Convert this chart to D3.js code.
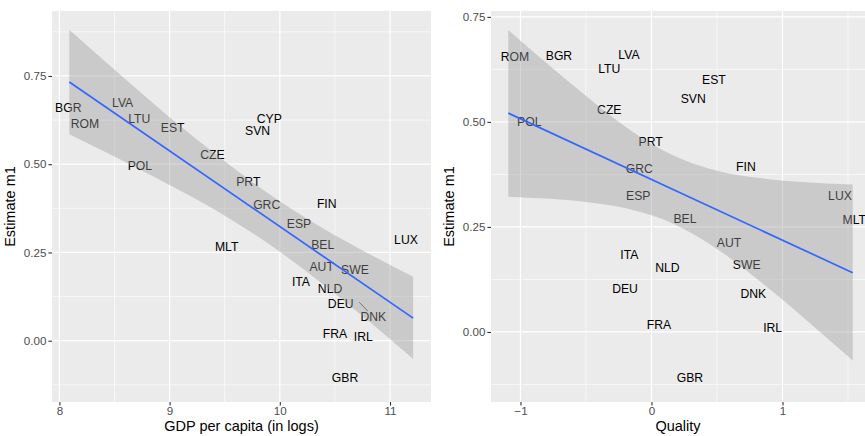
<!DOCTYPE html>
<html lang="en">
  <head>
    <meta charset="UTF-8" />
    <title>Estimate m1 vs GDP and Quality</title>
    <style>
      body {
        margin: 0;
        padding: 0;
        background-color: #ffffff;
      }
      svg text {
        font-family: "Liberation Sans", Arial, sans-serif;
      }
      .tick text {
        font-size: 11.6px;
        fill: #4d4d4d;
      }
      .tick line {
        stroke: #333333;
        stroke-width: 1.1;
      }
      .axis-title {
        font-size: 14.5px;
        fill: #000000;
      }
      .country {
        font-size: 12.2px;
        fill: #000000;
      }
    </style>
  </head>
  <body>
    <div id="chart"></div>

    <script src="https://d3js.org/d3.v7.min.js"></script>
    <script>
      // label positions (ggrepel labels)
      const countries = ["BGR", "ROM", "LVA", "LTU", "EST", "POL", "CZE", "CYP", "SVN", "PRT", "GRC", "FIN", "ESP",
        "MLT", "LUX", "BEL", "AUT", "SWE", "ITA", "NLD", "DEU", "DNK", "FRA", "IRL", "GBR"];
      const gdpLog = [8.081, 8.232, 8.574, 8.725, 9.028, 8.731, 9.388, 9.905, 9.799, 9.714, 9.881, 10.426, 10.174,
        9.518, 11.145, 10.389, 10.38, 10.682, 10.192, 10.456, 10.553, 10.849, 10.501, 10.758, 10.592];
      const estGdp = [0.661, 0.614, 0.674, 0.628, 0.602, 0.496, 0.526, 0.63, 0.595, 0.449, 0.386, 0.389, 0.33,
        0.265, 0.285, 0.273, 0.21, 0.202, 0.167, 0.148, 0.106, 0.068, 0.021, 0.01, -0.105];
      const quality = [-0.706, -1.042, -0.172, -0.322, 0.477, -0.933, -0.322, null, 0.319, -0.006, -0.093, 0.721, -0.101,
        1.548, 1.439, 0.256, 0.592, 0.727, -0.169, 0.121, -0.202, 0.777, 0.057, 0.925, 0.294];
      const estQuality = [0.658, 0.654, 0.66, 0.626, 0.6, 0.501, 0.529, null, 0.555, 0.452, 0.388, 0.394, 0.325,
        0.267, 0.325, 0.269, 0.213, 0.161, 0.183, 0.152, 0.104, 0.09, 0.017, 0.011, -0.109];

      // the one repelled label with a connector: [x, y] of the point
      const gdpRepelPoint = { DNK: [10.72, 0.109] };

      // fitted line and confidence band, left panel
      const gdpFitX = [8.09, 11.21];
      const gdpFitY = [0.733, 0.064];
      const gdpBandX = [8.09, 8.55, 9.0, 9.46, 9.91, 10.36, 10.82, 11.21];
      const gdpBandHi = [0.881, 0.754, 0.633, 0.518, 0.414, 0.324, 0.244, 0.181];
      const gdpBandLo = [0.585, 0.514, 0.441, 0.362, 0.272, 0.168, 0.052, -0.052];

      // fitted line and confidence band, right panel
      const qualFitX = [-1.093, 1.536];
      const qualFitY = [0.521, 0.141];
      const qualBandX = [-1.093, -0.775, -0.469, -0.164, 0.179, 0.523, 0.866, 1.21, 1.536];
      const qualBandHi = [0.719, 0.633, 0.554, 0.481, 0.418, 0.382, 0.365, 0.356, 0.351];
      const qualBandLo = [0.322, 0.317, 0.308, 0.292, 0.256, 0.193, 0.111, 0.021, -0.068];

      const gdpTicks = [8, 9, 10, 11];
      const gdpMinor = [8.5, 9.5, 10.5];
      const qualTicks = [-1, 0, 1];
      const qualMinor = [-0.5, 0.5, 1.5];
      const estTicks = [0, 0.25, 0.5, 0.75];
      const estMinor = [-0.125, 0.125, 0.375, 0.625, 0.875];

      const width = 865,
        height = 436,
        panelTop = 11,
        panelBottom = 402;

      const svg = d3
        .select("#chart")
        .append("svg")
        .attr("width", width)
        .attr("height", height);

      function drawPanel(p) {
        const x = d3.scaleLinear().domain(p.xDomain).range([p.left, p.right]);
        const y = d3.scaleLinear().domain(p.yDomain).range([panelBottom, panelTop]);
        const g = svg.append("g");

        const clipId = "clip-" + p.name;
        g.append("clipPath")
          .attr("id", clipId)
          .append("rect")
          .attr("x", p.left)
          .attr("y", panelTop)
          .attr("width", p.right - p.left)
          .attr("height", panelBottom - panelTop);

        g.append("rect")
          .attr("x", p.left)
          .attr("y", panelTop)
          .attr("width", p.right - p.left)
          .attr("height", panelBottom - panelTop)
          .attr("fill", "#ebebeb");

        const grid = g.append("g").attr("stroke", "#ffffff");
        grid.selectAll("line.xmin")
          .data(p.xMinor.filter((v) => x(v) > p.left && x(v) < p.right))
          .join("line")
          .attr("x1", (d) => x(d)).attr("x2", (d) => x(d))
          .attr("y1", panelTop).attr("y2", panelBottom)
          .attr("stroke-width", 0.6);
        grid.selectAll("line.ymin")
          .data(estMinor.filter((v) => y(v) > panelTop && y(v) < panelBottom))
          .join("line")
          .attr("x1", p.left).attr("x2", p.right)
          .attr("y1", (d) => y(d)).attr("y2", (d) => y(d))
          .attr("stroke-width", 0.6);
        grid.selectAll("line.xmaj")
          .data(p.xTicks)
          .join("line")
          .attr("x1", (d) => x(d)).attr("x2", (d) => x(d))
          .attr("y1", panelTop).attr("y2", panelBottom)
          .attr("stroke-width", 1.2);
        grid.selectAll("line.ymaj")
          .data(estTicks)
          .join("line")
          .attr("x1", p.left).attr("x2", p.right)
          .attr("y1", (d) => y(d)).attr("y2", (d) => y(d))
          .attr("stroke-width", 1.2);

        const plot = g.append("g").attr("clip-path", "url(#" + clipId + ")");

        const labels = countries
          .map((c, i) => ({ c, x: p.xs[i], y: p.ys[i] }))
          .filter((d) => d.x != null);

        plot.selectAll("text.country")
          .data(labels)
          .join("text")
          .attr("class", "country")
          .attr("x", (d) => x(d.x))
          .attr("y", (d) => y(d.y))
          .attr("text-anchor", "middle")
          .attr("dy", "0.35em")
          .text((d) => d.c);

        // connector for repelled labels
        Object.entries(p.repel || {}).forEach(([c, pt]) => {
          const i = countries.indexOf(c);
          const x0 = x(pt[0]), y0 = y(pt[1]);
          const x1 = x(p.xs[i]), y1 = y(p.ys[i]);
          const len = Math.hypot(x1 - x0, y1 - y0);
          const k = (len - 8) / len;
          plot.append("line")
            .attr("x1", x0).attr("y1", y0)
            .attr("x2", x0 + (x1 - x0) * k).attr("y2", y0 + (y1 - y0) * k)
            .attr("stroke", "#000")
            .attr("stroke-width", 0.6);
        });

        const band = p.bandX.map((v, i) => [v, p.bandHi[i], p.bandLo[i]]);
        plot.append("path")
          .datum(band)
          .attr("fill", "#999999")
          .attr("fill-opacity", 0.4)
          .attr("d", d3.area()
            .x((d) => x(d[0]))
            .y0((d) => y(d[2]))
            .y1((d) => y(d[1]))
            .curve(d3.curveMonotoneX));

        plot.append("path")
          .datum(p.fitX.map((v, i) => [v, p.fitY[i]]))
          .attr("fill", "none")
          .attr("stroke", "#3366ff")
          .attr("stroke-width", 1.7)
          .attr("d", d3.line().x((d) => x(d[0])).y((d) => y(d[1])));

        // axes
        const xAxis = g.append("g")
          .attr("transform", `translate(0,${panelBottom})`)
          .call(d3.axisBottom(x).tickValues(p.xTicks).tickSize(3.6).tickPadding(1.5)
            .tickFormat(d3.format("d")));
        xAxis.select(".domain").remove();

        const yAxis = g.append("g")
          .attr("transform", `translate(${p.left},0)`)
          .call(d3.axisLeft(y).tickValues(estTicks).tickSize(3.6).tickPadding(2)
            .tickFormat(d3.format(".2f")));
        yAxis.select(".domain").remove();

        g.append("text")
          .attr("class", "axis-title")
          .attr("x", (p.left + p.right) / 2)
          .attr("y", 431)
          .attr("text-anchor", "middle")
          .text(p.xTitle);

        g.append("text")
          .attr("class", "axis-title")
          .attr("transform", `translate(${p.left - 37},${(panelTop + panelBottom) / 2}) rotate(-90)`)
          .attr("text-anchor", "middle")
          .text("Estimate m1");
      }

      drawPanel({
        name: "gdp",
        left: 52,
        right: 431,
        xDomain: [7.933, 11.372],
        yDomain: [-0.1737, 0.934],
        xTicks: gdpTicks,
        xMinor: gdpMinor,
        xs: gdpLog,
        ys: estGdp,
        repel: gdpRepelPoint,
        fitX: gdpFitX,
        fitY: gdpFitY,
        bandX: gdpBandX,
        bandHi: gdpBandHi,
        bandLo: gdpBandLo,
        xTitle: "GDP per capita (in logs)",
      });

      drawPanel({
        name: "quality",
        left: 491,
        right: 865,
        xDomain: [-1.225, 1.63],
        yDomain: [-0.1667, 0.764],
        xTicks: qualTicks,
        xMinor: qualMinor,
        xs: quality,
        ys: estQuality,
        fitX: qualFitX,
        fitY: qualFitY,
        bandX: qualBandX,
        bandHi: qualBandHi,
        bandLo: qualBandLo,
        xTitle: "Quality",
      });
    </script>
  </body>
</html>
